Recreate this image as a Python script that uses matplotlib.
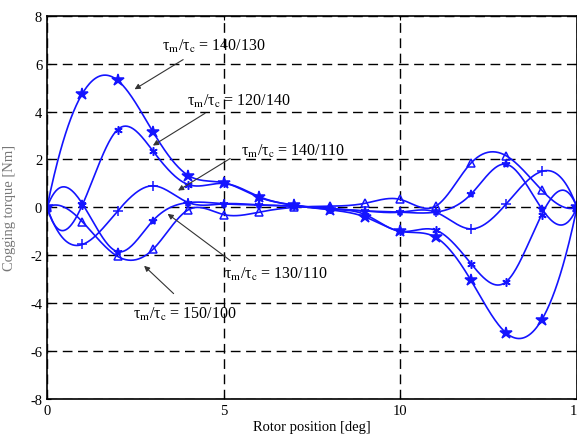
import numpy as np
from matplotlib import pyplot as plt

plt.rcParams["font.family"] = "Liberation Serif"
plt.rcParams["mathtext.fontset"] = "stix"
plt.rcParams["axes.unicode_minus"] = False

rotor_x = np.arange(16)

t_140_130 = [0, 4.75, 5.3, 3.15, 1.33, 1.03, 0.42, 0.1, -0.1, -0.4, -1.0, -1.25, -3.05, -5.25, -4.7, 0]
t_120_140 = [0, 0.1, 3.25, 2.35, 0.95, 1.0, 0.45, 0.08, -0.08, -0.3, -1.0, -0.95, -2.35, -3.1, -0.3, 0]
t_140_110 = [0, -1.55, -0.15, 0.9, 0.2, 0.15, 0.1, 0.05, -0.05, -0.15, -0.2, -0.2, -0.9, 0.15, 1.5, 0]
t_130_110 = [0, 0.15, -1.85, -0.55, 0.2, 0.15, 0.1, 0.05, -0.05, -0.15, -0.2, -0.2, 0.55, 1.8, -0.05, 0]
t_150_100 = [0, -0.6, -2.05, -1.75, -0.1, -0.3, -0.2, 0.0, 0.05, 0.17, 0.33, 0.05, 1.85, 2.15, 0.72, 0]

labels = ["140/130", "120/140", "140/110", "130/110", "150/100"]


def spline_curve(x, y, n=40):
    # not-a-knot cubic spline through the measured points (smooth line only)
    x = np.asarray(x, float)
    y = np.asarray(y, float)
    k = len(x)
    h = x[1] - x[0]
    A = np.zeros((k, k))
    b = np.zeros(k)
    A[0, :3] = [1, -2, 1]
    A[-1, -3:] = [1, -2, 1]
    for i in range(1, k - 1):
        A[i, i - 1:i + 2] = [1, 4, 1]
        b[i] = 6 * (y[i - 1] - 2 * y[i] + y[i + 1]) / h ** 2
    M = np.linalg.solve(A, b)
    xs, ys = [], []
    for i in range(k - 1):
        t = np.linspace(x[i], x[i + 1], n, endpoint=False)
        a = (x[i + 1] - t) / h
        c = (t - x[i]) / h
        s = (a * y[i] + c * y[i + 1]
             + ((a ** 3 - a) * M[i] + (c ** 3 - c) * M[i + 1]) * h ** 2 / 6)
        xs.append(t)
        ys.append(s)
    xs.append([x[-1]])
    ys.append([y[-1]])
    return np.concatenate(xs), np.concatenate(ys)


fig = plt.figure(figsize=(5.77, 4.35), dpi=100)
ax = fig.add_axes([0.0815, 0.0805, 0.9185, 0.881])

blue = "#1414ff"
series = [
    (t_140_130, "*", 9),
    (t_120_140, (6, 2, 0), 6),
    (t_140_110, "+", 7),
    (t_130_110, "*", 6),
    (t_150_100, "^", 6),
]
for vals, mk, ms in series:
    sx, sy = spline_curve(rotor_x, vals)
    ax.plot(sx, sy, color=blue, lw=1.2)
    ax.plot(rotor_x, vals, ls="none", marker=mk, ms=ms, color=blue,
            mfc=blue if mk == "*" else "none", mew=1.1)

ax.set_xlim(0, 15)
ax.set_ylim(-8, 8)
ax.set_xticks([0, 5, 10, 15])
ax.set_yticks(np.arange(-8, 9, 2))
ax.grid(True, color="black", ls=(0, (7, 4)), lw=1.0)
ax.tick_params(direction="in", top=True, right=True, labelsize=10.5, length=3)
for s in ax.spines.values():
    s.set_linewidth(1.2)

ax.set_xlabel("Rotor position [deg]", fontsize=10.5, labelpad=2)
ax.set_ylabel("Cogging torque [Nm]", fontsize=10.5, color="#777777", labelpad=10)

# annotation text left position and arrow (start -> end) in data coords
notes = [
    ((3.26, 6.75), (3.92, 6.23), (2.41, 4.87)),
    ((3.97, 4.48), (4.54, 3.99), (2.93, 2.52)),
    ((5.5, 2.38), (5.25, 2.1), (3.64, 0.64)),
    ((5.0, -2.76), (5.25, -2.29), (3.35, -0.2)),
    ((2.44, -4.43), (3.64, -3.68), (2.69, -2.36)),
]
for lab, (tpos, a0, a1) in zip(labels, notes):
    ax.text(tpos[0], tpos[1], r"τ$_\mathrm{m}$/τ$_\mathrm{c}$ = " + lab,
            fontsize=11.5, ha="left", va="center")
    ax.annotate("", xy=a1, xytext=a0,
                arrowprops=dict(arrowstyle="-|>", color="#333333", lw=0.8,
                                mutation_scale=8))

fig.savefig("out.png", dpi=100)
